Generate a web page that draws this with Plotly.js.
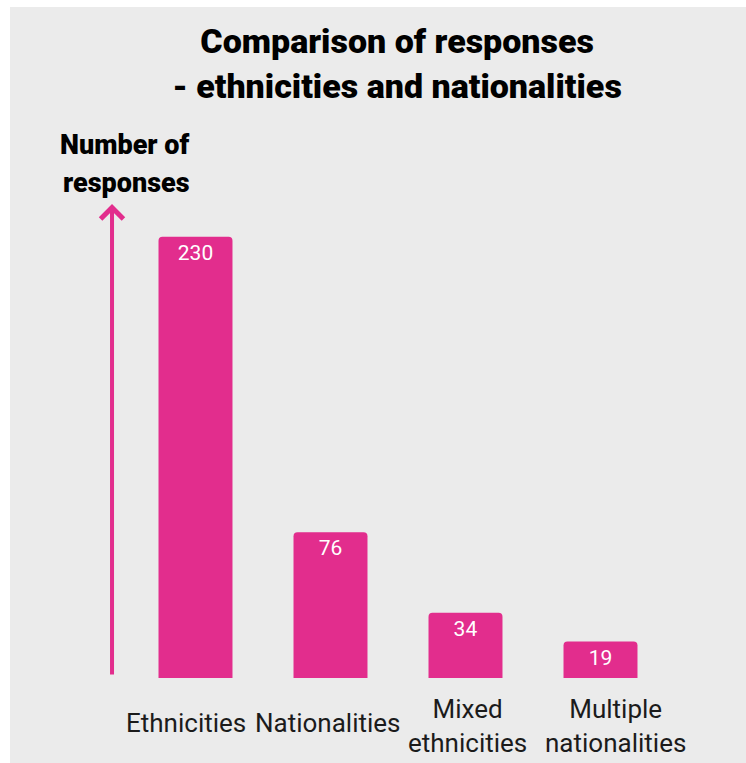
<!DOCTYPE html>
<html>
<head>
<meta charset="utf-8">
<script src="https://cdn.plot.ly/plotly-3.0.1.min.js"></script>
<style>
  html, body { margin: 0; padding: 0; background: #ffffff; }
  #chart { position: absolute; left: 10px; top: 7px; width: 736px; height: 756px; }
</style>
</head>
<body>
<div id="chart"></div>
<script>
// Responses per category
const categories = ['Ethnicities', 'Nationalities', 'Mixed<br>ethnicities', 'Multiple<br>nationalities'];
const responses = [230, 76, 34, 19];

const PINK = '#e22d8d';
const INK = '#1b1b1b';

const bars = {
  type: 'bar',
  x: categories,
  y: responses,
  width: 0.548,
  marker: { color: PINK, cornerradius: 4, line: { width: 0 } },
  text: responses.map(String),
  textposition: 'inside',
  insidetextanchor: 'end',
  textangle: 0,
  constraintext: 'none',
  textfont: { family: 'Roboto, sans-serif', size: 21, color: '#ffffff' },
  hoverinfo: 'skip'
};

// small horizontal nudges for the category captions
const captionNudge = [-10, -3, 2, 15];

const annotations = [
  // vertical axis arrow
  {
    xref: 'paper', yref: 'paper', x: -0.0296, y: 0.915,
    ax: 0, ay: 472, axref: 'pixel', ayref: 'pixel',
    text: '', showarrow: true, arrowhead: 4, arrowsize: 1.1,
    arrowwidth: 4, arrowcolor: PINK, standoff: 0, startstandoff: 0
  },
  // axis caption
  {
    xref: 'paper', yref: 'paper', x: -0.0056, y: 1.029,
    xanchor: 'center', yanchor: 'middle',
    text: 'Number of', showarrow: false,
    font: { family: 'Roboto, sans-serif', size: 27, color: '#000', weight: 900 }
  },
  {
    xref: 'paper', yref: 'paper', x: -0.0019, y: 0.9556,
    xanchor: 'center', yanchor: 'middle',
    text: 'responses', showarrow: false,
    font: { family: 'Roboto, sans-serif', size: 27, color: '#000', weight: 900 }
  }
].concat(categories.map((c, i) => ({
  xref: 'x', yref: 'paper', x: c,
  y: c.includes('<br>') ? -0.093 : -0.087, yanchor: 'middle',
  xshift: captionNudge[i],
  text: c, showarrow: false,
  font: { family: '"Liberation Sans Narrow", Roboto, sans-serif', size: 26, color: INK }
})));

const layout = {
  width: 736,
  height: 756,
  paper_bgcolor: '#ebebeb',
  plot_bgcolor: '#ebebeb',
  margin: { l: 118, r: 78, t: 153, b: 85 },
  showlegend: false,
  hovermode: false,
  title: {
    text: 'Comparison of responses<br>- ethnicities and nationalities',
    xref: 'container', yref: 'container',
    x: 0.526, xanchor: 'center', y: 0.9385, yanchor: 'middle',
    font: { family: 'Roboto, sans-serif', size: 34, color: '#000', weight: 900 }
  },
  xaxis: {
    type: 'category', range: [-0.5, 3.5],
    showticklabels: false, showgrid: false, zeroline: false, showline: false,
    ticks: '', fixedrange: true
  },
  yaxis: {
    range: [0, 270], visible: false, showgrid: false, zeroline: false, fixedrange: true
  },
  annotations: annotations
};

Plotly.newPlot('chart', [bars], layout, { displayModeBar: false, staticPlot: true });
</script>
</body>
</html>
